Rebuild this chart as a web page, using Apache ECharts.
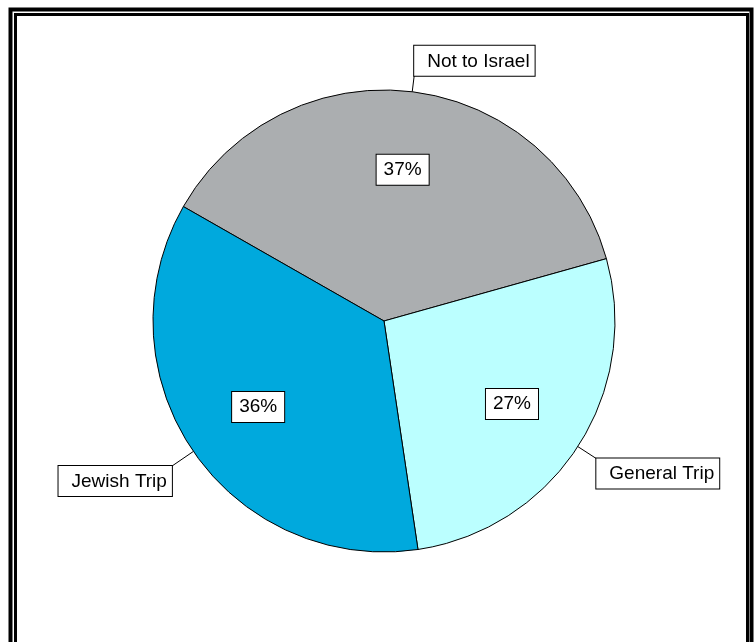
<!DOCTYPE html>
<html>
<head>
<meta charset="utf-8">
<script src="https://cdn.jsdelivr.net/npm/echarts@6/dist/echarts.min.js"></script>
<style>html,body{margin:0;padding:0;background:#fff}#c{width:754px;height:642px}</style>
</head>
<body>
<div id="c"></div>
<script>
var categories = ['Not to Israel', 'General Trip', 'Jewish Trip'];
var values = [37.4, 27.0, 35.6];
var percentLabels = ['37%', '27%', '36%'];
var colors = ['#ABAEB0', '#BBFFFF', '#00A9DD'];

var chart = echarts.init(document.getElementById('c'), null, {renderer: 'canvas'});
var CX = 384, CY = 321, R = 231;
var FONT = 'Liberation Sans, Arial, sans-serif';
var LEADER = [16, 22, 26];

var data = categories.map(function (c, i) {
  return {name: c, value: values[i], itemStyle: {color: colors[i]}};
});

chart.setOption({
  backgroundColor: '#ffffff',
  animation: false,
  graphic: [
    {type: 'rect', shape: {x: 10.5, y: 9.5, width: 741, height: 650}, style: {fill: 'none', stroke: '#000', lineWidth: 4}, silent: true},
    {type: 'rect', shape: {x: 15.5, y: 14.5, width: 732, height: 650}, style: {fill: 'none', stroke: '#000', lineWidth: 3}, silent: true}
  ],
  series: [
    {
      type: 'pie',
      center: [CX, CY],
      radius: [0, R],
      startAngle: 150.3,
      clockwise: true,
      silent: true,
      data: data,
      itemStyle: {borderColor: '#000', borderWidth: 1},
      label: {
        show: true,
        position: 'outside',
        formatter: '{b}',
        color: '#000',
        fontFamily: FONT,
        fontSize: 19,
        lineHeight: 21,
        backgroundColor: '#fff',
        borderColor: '#000',
        borderWidth: 1,
        padding: [5, 5, 4, 13]
      },
      labelLine: {show: true, length: 20, length2: 0, smooth: false, lineStyle: {color: '#000', width: 1}},
      labelLayout: function (p) {
        var pts = p.labelLinePoints;
        if (!pts) return {};
        var s = pts[0], e = pts[1];
        var dx = e[0] - s[0], dy = e[1] - s[1];
        var len = Math.sqrt(dx * dx + dy * dy) || 1;
        var ext = LEADER[p.dataIndex];
        var ex = s[0] + dx / len * ext, ey = s[1] + dy / len * ext;
        var right = ex > CX;
        var up = ey < CY;
        return {
          x: ex, y: ey,
          align: right ? 'left' : 'right',
          verticalAlign: up ? 'bottom' : 'top',
          labelLinePoints: [[s[0], s[1]], [ex, ey], [ex, ey]]
        };
      }
    },
    {
      type: 'pie',
      center: [CX, CY],
      radius: [68, R],
      startAngle: 150.3,
      clockwise: true,
      silent: true,
      data: categories.map(function (c, i) {
        return {name: c, value: values[i]};
      }),
      itemStyle: {color: 'rgba(0,0,0,0)', borderWidth: 0},
      label: {
        show: true,
        position: 'inside',
        formatter: function (p) { return percentLabels[p.dataIndex]; },
        color: '#000',
        fontFamily: FONT,
        fontSize: 19,
        lineHeight: 21,
        backgroundColor: '#fff',
        borderColor: '#000',
        borderWidth: 1,
        padding: [5, 7, 4, 7]
      },
      labelLine: {show: false}
    }
  ]
});
</script>
</body>
</html>
